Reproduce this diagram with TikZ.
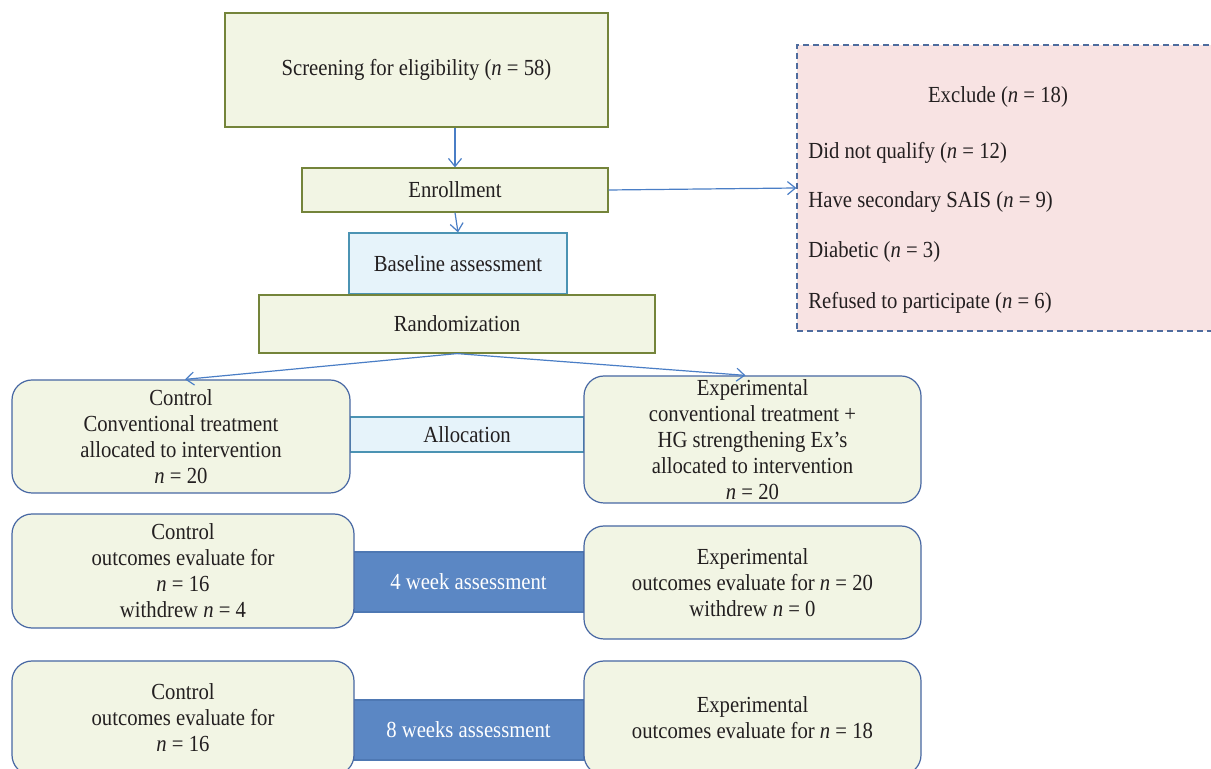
\documentclass[tikz,border=0pt]{standalone}
\usepackage{fontspec}
\setmainfont[FakeStretch=0.9]{Liberation Serif}
\usetikzlibrary{arrows.meta}
\definecolor{ofill}{HTML}{F2F5E4}
\definecolor{odraw}{HTML}{74843A}
\definecolor{bfill}{HTML}{E6F3FA}
\definecolor{bdraw}{HTML}{4B93B3}
\definecolor{rdraw}{HTML}{4767A3}
\definecolor{afill}{HTML}{5B87C4}
\definecolor{adraw}{HTML}{4E78B3}
\definecolor{pfill}{HTML}{F8E3E3}
\definecolor{pdraw}{HTML}{4E6C9E}
\definecolor{arr}{HTML}{4A7EC6}
\definecolor{txt}{HTML}{231F20}
\tikzset{
  every node/.style={font=\fontsize{11.5}{13}\selectfont, text=txt},
  obox/.style={draw=odraw, fill=ofill, line width=0.6pt, inner sep=0pt},
  bbox/.style={draw=bdraw, fill=bfill, line width=0.6pt, inner sep=0pt},
  rbox/.style={draw=rdraw, fill=ofill, line width=0.6pt, rounded corners=10pt, align=center, inner sep=0pt},
  abox/.style={draw=adraw, fill=afill, line width=0.6pt, inner sep=0pt, text=white},
  pbox/.style={draw=pdraw, fill=pfill, line width=0.6pt, dash pattern=on 3pt off 2pt, inner sep=0pt},
  plain/.style={inner sep=0pt},
  conn/.style={draw=arr, line width=0.6pt, -{Straight Barb[length=4pt,width=6.5pt]}}
}
\begin{document}
\begin{tikzpicture}[x=0.5pt,y=-0.5pt]
\clip (0,0) rectangle (1211,769);
\fill[white] (0,0) rectangle (1211,769);
% top column
\node[obox, minimum width=191.5pt, minimum height=57pt] (screen) at (416.5,70) {Screening for eligibility (\textit{n} = 58)};
\node[obox, minimum width=153pt, minimum height=22pt] (enroll) at (455,190) {Enrollment};
\node[bbox, minimum width=109pt, minimum height=30.5pt] (base) at (458,263.5) {Baseline assessment};
\node[obox, minimum width=198pt, minimum height=29pt] (rand) at (457,324) {Randomization};
% exclusion box
\node[pbox, minimum width=209pt, minimum height=143pt] (excl) at (1006,188) {};
\node[plain] (exhead) at (998,97) {Exclude (\textit{n} = 18)};
\node[plain, anchor=west] (ex1) at (808,153) {Did not qualify (\textit{n} = 12)};
\node[plain, anchor=west] (ex2) at (808,202) {Have secondary SAIS (\textit{n} = 9)};
\node[plain, anchor=west] (ex3) at (808,252) {Diabetic (\textit{n} = 3)};
\node[plain, anchor=west] (ex4) at (808,303) {Refused to participate (\textit{n} = 6)};
% middle bars
\node[bbox, minimum width=117pt, minimum height=17.5pt] (alloc) at (467,434.5) {Allocation};
\node[abox, minimum width=115.5pt, minimum height=30pt] (wk4) at (468.5,582) {4 week assessment};
\node[abox, minimum width=115.5pt, minimum height=30pt] (wk8) at (468.5,730) {8 weeks assessment};
% groups
\node[rbox, minimum width=169pt, minimum height=56.5pt] (ctrl1) at (181,436.5) {Control\\Conventional treatment\\allocated to intervention\\\textit{n} = 20};
\node[rbox, minimum width=168.5pt, minimum height=63.5pt] (exp1) at (752.5,439.5) {Experimental\\conventional treatment +\\HG strengthening Ex’s\\allocated to intervention\\\textit{n} = 20};
\node[rbox, minimum width=171pt, minimum height=57pt] (ctrl2) at (183,571) {Control\\outcomes evaluate for\\\textit{n} = 16\\withdrew \textit{n} = 4};
\node[rbox, minimum width=168.5pt, minimum height=56.5pt] (exp2) at (752.5,582.5) {Experimental\\outcomes evaluate for \textit{n} = 20\\withdrew \textit{n} = 0};
\node[rbox, minimum width=171pt, minimum height=57pt] (ctrl3) at (183,718) {Control\\outcomes evaluate for\\\textit{n} = 16};
\node[rbox, minimum width=168.5pt, minimum height=57pt] (exp3) at (752.5,718) {Experimental\\outcomes evaluate for \textit{n} = 18};
% connectors
\draw[conn] (screen.south -| enroll.north) -- (enroll.north);
\draw[conn] (enroll.south) -- (base.north);
\draw[conn] (enroll.east) -- (excl.west);
\draw[conn] (rand.south) -- ([xshift=2pt]ctrl1.north);
\draw[conn] (rand.south) -- ([xshift=-3.5pt]exp1.north);
\end{tikzpicture}
\end{document}
